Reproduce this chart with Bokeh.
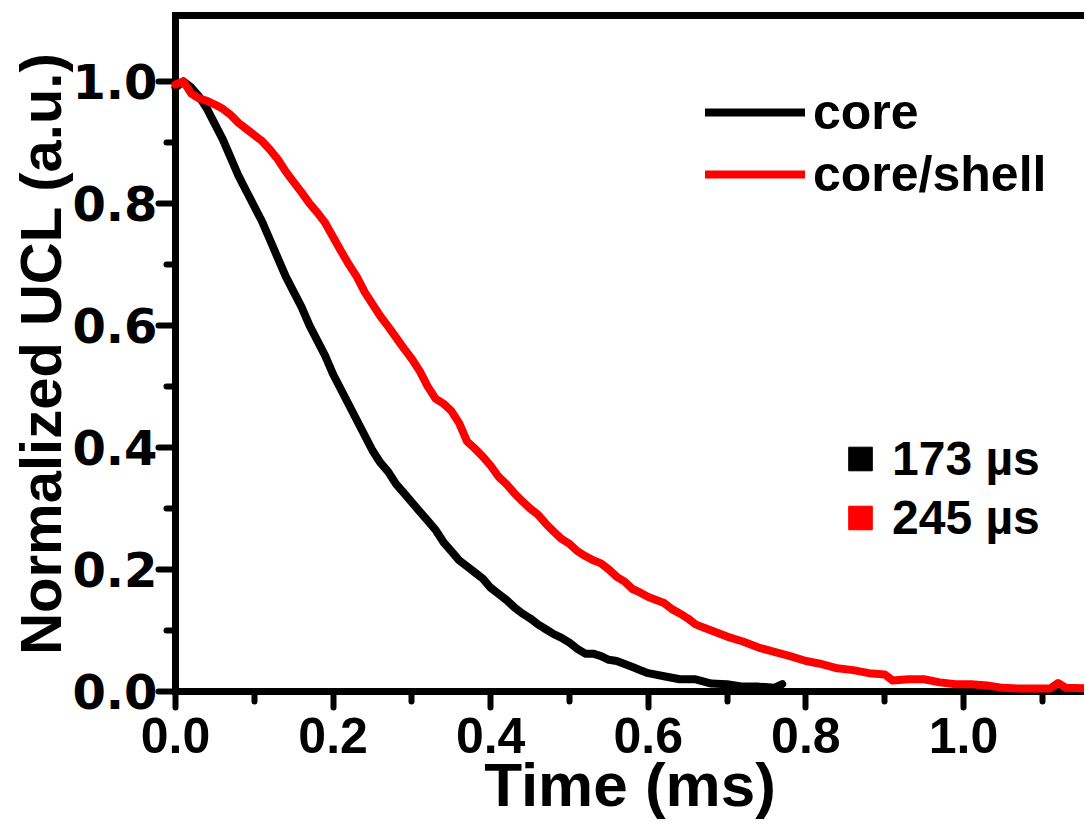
from bokeh.plotting import figure
from bokeh.models import (ColumnDataSource, FixedTicker, LinearAxis, Legend, LegendItem,
                          Range1d, PrintfTickFormatter)
from bokeh.embed import file_html
from bokeh.resources import INLINE

# ---------------- data ----------------
core_t = [0.00, 0.01, 0.02, 0.03, 0.04, 0.05, 0.06, 0.07, 0.08, 0.09,
          0.10, 0.11, 0.12, 0.13, 0.14, 0.15, 0.16, 0.17, 0.18, 0.19,
          0.20, 0.21, 0.22, 0.23, 0.24, 0.25, 0.26, 0.27, 0.28, 0.29,
          0.30, 0.31, 0.32, 0.33, 0.34, 0.35, 0.36, 0.37, 0.38, 0.39,
          0.40, 0.41, 0.42, 0.43, 0.44, 0.45, 0.46, 0.47, 0.48, 0.49,
          0.50, 0.51, 0.52, 0.53, 0.54, 0.55, 0.56, 0.57, 0.58, 0.59,
          0.60, 0.62, 0.64, 0.66, 0.68, 0.70, 0.72, 0.74, 0.76, 0.77]
core_i = [0.99, 1.00, 0.99, 0.975, 0.955, 0.93, 0.905, 0.875, 0.845, 0.82,
          0.795, 0.77, 0.74, 0.71, 0.68, 0.655, 0.63, 0.60, 0.575, 0.55,
          0.52, 0.495, 0.47, 0.445, 0.42, 0.395, 0.375, 0.36, 0.34, 0.325,
          0.31, 0.295, 0.28, 0.265, 0.245, 0.23, 0.215, 0.205, 0.195, 0.185,
          0.17, 0.16, 0.15, 0.138, 0.128, 0.12, 0.11, 0.102, 0.094, 0.088,
          0.08, 0.07, 0.062, 0.062, 0.058, 0.052, 0.05, 0.045, 0.04, 0.035,
          0.03, 0.025, 0.02, 0.02, 0.013, 0.012, 0.008, 0.008, 0.006, 0.012]

shell_t = [0.00, 0.01, 0.02, 0.03, 0.04, 0.05, 0.06, 0.07, 0.08, 0.09,
           0.10, 0.11, 0.12, 0.13, 0.14, 0.15, 0.16, 0.17, 0.18, 0.19,
           0.20, 0.21, 0.22, 0.23, 0.24, 0.25, 0.26, 0.27, 0.28, 0.29,
           0.30, 0.31, 0.32, 0.33, 0.34, 0.35, 0.36, 0.37, 0.38, 0.39,
           0.40, 0.41, 0.42, 0.43, 0.44, 0.45, 0.46, 0.47, 0.48, 0.49,
           0.50, 0.51, 0.52, 0.53, 0.54, 0.55, 0.56, 0.57, 0.58, 0.59,
           0.60, 0.61, 0.62, 0.63, 0.64, 0.65, 0.66, 0.67, 0.68, 0.69,
           0.70, 0.72, 0.74, 0.76, 0.78, 0.80, 0.82, 0.84, 0.86, 0.88,
           0.90, 0.91, 0.93, 0.95, 0.97, 0.99, 1.01, 1.03, 1.05, 1.07,
           1.09, 1.11, 1.12, 1.13, 1.16]
shell_i = [0.995, 1.00, 0.98, 0.972, 0.968, 0.962, 0.955, 0.945, 0.932, 0.922,
           0.912, 0.902, 0.888, 0.872, 0.852, 0.835, 0.818, 0.80, 0.785, 0.768,
           0.745, 0.722, 0.70, 0.68, 0.655, 0.635, 0.615, 0.598, 0.58, 0.562,
           0.545, 0.525, 0.50, 0.48, 0.472, 0.46, 0.44, 0.41, 0.398, 0.385,
           0.37, 0.352, 0.34, 0.325, 0.312, 0.30, 0.29, 0.275, 0.262, 0.25,
           0.242, 0.23, 0.222, 0.215, 0.21, 0.20, 0.188, 0.18, 0.168, 0.162,
           0.155, 0.15, 0.145, 0.135, 0.128, 0.12, 0.11, 0.105, 0.10, 0.095,
           0.09, 0.082, 0.072, 0.065, 0.058, 0.05, 0.045, 0.038, 0.035, 0.03,
           0.028, 0.018, 0.02, 0.02, 0.015, 0.012, 0.012, 0.01, 0.006, 0.005,
           0.005, 0.005, 0.014, 0.006, 0.005]

series_names = ["core", "core/shell"]
lifetime_labels = ["173 \u00b5s", "245 \u00b5s"]
x_title = "Time (ms)"
y_title = "Normalized UCL (a.u.)"
x_major = [0.0, 0.2, 0.4, 0.6, 0.8, 1.0]
x_minor = [0.1, 0.3, 0.5, 0.7, 0.9, 1.1]
y_major = [0.0, 0.2, 0.4, 0.6, 0.8, 1.0]
y_minor = [0.1, 0.3, 0.5, 0.7, 0.9]

# ---------------- figure ----------------
p = figure(width=1084, height=828, output_backend="svg", toolbar_location=None,
           x_range=Range1d(0, 1.1536), y_range=Range1d(0, 1.108),
           x_axis_type=None, y_axis_type=None,
           min_border_left=175, min_border_right=0, min_border_top=15, min_border_bottom=137)
p.outline_line_color = None
p.grid.visible = False
p.background_fill_color = "white"
p.border_fill_color = "white"

src_core = ColumnDataSource(dict(t=core_t, i=core_i))
src_shell = ColumnDataSource(dict(t=shell_t, i=shell_i))
r_core = p.line("t", "i", source=src_core, line_color="black", line_width=8, line_join="round", line_cap="round")
r_shell = p.line("t", "i", source=src_shell, line_color="#ff0000", line_width=8, line_join="round", line_cap="round")
r_core.level = "annotation"
r_shell.level = "annotation"


def style_axis(ax):
    ax.axis_line_width = 7
    ax.axis_line_color = "black"
    ax.axis_line_cap = "square"
    ax.major_tick_line_width = 6
    ax.minor_tick_line_width = 6
    ax.major_tick_line_cap = "round"
    ax.minor_tick_line_cap = "round"
    ax.major_tick_in = 0
    ax.minor_tick_in = 0


xax = LinearAxis(ticker=FixedTicker(ticks=x_major, minor_ticks=x_minor),
                 formatter=PrintfTickFormatter(format="%.1f"))
style_axis(xax)
xax.major_tick_out = 16
xax.minor_tick_out = 10
xax.major_label_standoff = 10
xax.major_label_text_font = "Liberation Sans"
xax.major_label_text_font_style = "bold"
xax.major_label_text_font_size = "50px"
xax.major_label_text_color = "black"
xax.axis_label = x_title
xax.axis_label_standoff = -6
xax.axis_label_text_font = "Liberation Sans"
xax.axis_label_text_font_style = "bold"
xax.axis_label_text_font_size = "62px"
xax.axis_label_text_color = "black"
p.add_layout(xax, "below")

yax = LinearAxis(ticker=FixedTicker(ticks=y_major, minor_ticks=y_minor),
                 formatter=PrintfTickFormatter(format="%.1f"))
style_axis(yax)
yax.major_tick_out = 17
yax.minor_tick_out = 9
yax.major_label_standoff = 1
yax.major_label_text_font = "DejaVu Sans"
yax.major_label_text_font_style = "bold"
yax.major_label_text_font_size = "48px"
yax.major_label_text_color = "black"
yax.axis_label = y_title
yax.axis_label_standoff = -4
yax.axis_label_text_font = "Liberation Sans"
yax.axis_label_text_font_style = "bold"
yax.axis_label_text_font_size = "58px"
yax.axis_label_text_color = "black"
p.add_layout(yax, "left")

top = LinearAxis(ticker=FixedTicker(ticks=[]))
style_axis(top)
top.major_label_standoff = 0
top.major_tick_out = 0
top.minor_tick_out = 0
p.add_layout(top, "above")

# legend 1: lines
leg1 = Legend(items=[LegendItem(label=series_names[0], renderers=[r_core]),
                     LegendItem(label=series_names[1], renderers=[r_shell])],
              location=(530, 488), orientation="vertical",
              glyph_width=100, glyph_height=58, label_height=58, label_standoff=8,
              spacing=4, padding=0, margin=0,
              border_line_color=None, background_fill_alpha=0,
              label_text_font="Liberation Sans", label_text_font_style="bold",
              label_text_font_size="50px", label_text_color="black")
p.add_layout(leg1)

# legend 2: squares (lifetimes) - hidden scatter renderers used only for legend glyphs
sq_black = p.scatter("t", "i", source=src_core, marker="square", color="black", size=24)
sq_red = p.scatter("t", "i", source=src_shell, marker="square", color="#ff0000", size=24)
sq_black.visible = False
sq_red.visible = False
leg2 = Legend(items=[LegendItem(label=lifetime_labels[0], renderers=[sq_black]),
                     LegendItem(label=lifetime_labels[1], renderers=[sq_red])],
              location=(653, 144), orientation="vertical",
              glyph_width=64, glyph_height=59, label_height=59, label_standoff=0,
              spacing=0, padding=0, margin=0,
              border_line_color=None, background_fill_alpha=0,
              label_text_font="Liberation Sans", label_text_font_style="bold",
              label_text_font_size="48px", label_text_color="black")
p.add_layout(leg2)

open("out.html", "w").write(file_html(p, INLINE))
